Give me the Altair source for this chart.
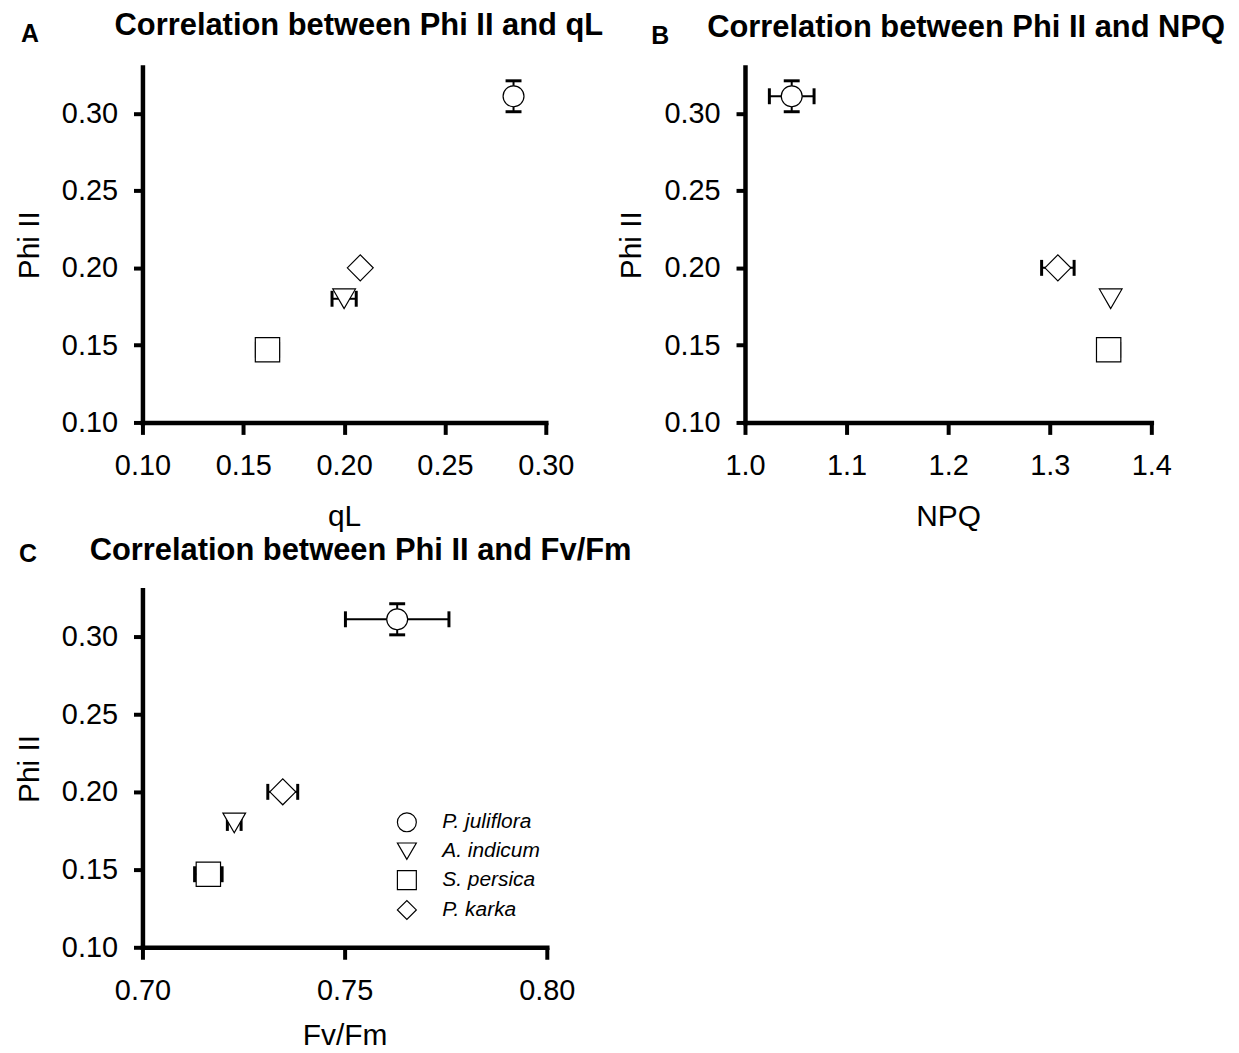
import altair as alt
import pandas as pd

FONT = "Liberation Sans"

species = ["P. juliflora", "A. indicum", "S. persica", "P. karka"]
shapes = ["circle", "triangle-down", "square", "diamond"]
marker_sizes = [484, 530, 441, 676]

phi = [0.311, 0.180, 0.147, 0.200]
phi_err = [0.010, 0.0, 0.0, 0.0]

ql = [0.284, 0.200, 0.162, 0.208]
ql_err = [0.0, 0.006, 0.0055, 0.0]

npq = [1.046, 1.360, 1.358, 1.308]
npq_err = [0.022, 0.0, 0.0108, 0.016]

fvfm = [0.763, 0.7227, 0.7163, 0.7347]
fvfm_err = [0.0128, 0.0017, 0.0034, 0.0037]

y_ticks = [0.10, 0.15, 0.20, 0.25, 0.30]
ql_ticks = [0.10, 0.15, 0.20, 0.25, 0.30]
npq_ticks = [1.0, 1.1, 1.2, 1.3, 1.4]
fvfm_ticks = [0.70, 0.75, 0.80]


def panel(xv, xe, xtitle, xdomain, xticks, xfmt, letter, title,
          lx, ly, tx, ty, width, height, legend, xtitle_pad):
    df = pd.DataFrame({
        "species": species,
        "kind": species,
        "x": xv,
        "xerr": xe,
        "xlo": [v - e for v, e in zip(xv, xe)],
        "xhi": [v + e for v, e in zip(xv, xe)],
        "y": phi,
        "yerr": phi_err,
        "ylo": [v - e for v, e in zip(phi, phi_err)],
        "yhi": [v + e for v, e in zip(phi, phi_err)],
    })
    xs = alt.Scale(domain=xdomain, nice=False, zero=False)
    ys = alt.Scale(domain=[0.10, 0.33], nice=False, zero=False)
    xa = alt.Axis(values=xticks, format=xfmt, title=xtitle, titlePadding=xtitle_pad)
    ya = alt.Axis(values=y_ticks, format=".2f", title="Phi II")

    def X(f):
        return alt.X(f, type="quantitative", scale=xs, axis=xa)

    def Y(f):
        return alt.Y(f, type="quantitative", scale=ys, axis=ya)

    base = alt.Chart(df)
    hx = base.transform_filter("datum.xerr > 0")
    hy = base.transform_filter("datum.yerr > 0")

    hbar = hx.mark_rule(color="black", strokeWidth=2).encode(x=X("xlo"), x2="xhi", y=Y("y"))
    hcap_l = hx.mark_tick(orient="vertical", size=16, thickness=3, color="black", opacity=1).encode(
        x=X("xlo"), y=Y("y"))
    hcap_r = hx.mark_tick(orient="vertical", size=16, thickness=3, color="black", opacity=1).encode(
        x=X("xhi"), y=Y("y"))
    vbar = hy.mark_rule(color="black", strokeWidth=2).encode(x=X("x"), y=Y("ylo"), y2="yhi")
    vcap_b = hy.mark_tick(orient="horizontal", size=16, thickness=3, color="black", opacity=1).encode(
        x=X("x"), y=Y("ylo"))
    vcap_t = hy.mark_tick(orient="horizontal", size=16, thickness=3, color="black", opacity=1).encode(
        x=X("x"), y=Y("yhi"))

    # size scale uses the reversed species order so that its legend is not merged
    # with (and disabled together with) the shape legend
    pts = base.mark_point(filled=False, color="black", fill="white", stroke="black",
                          strokeWidth=1.2, opacity=1, fillOpacity=1).encode(
        x=X("x"),
        y=Y("y"),
        shape=alt.Shape("species:N", scale=alt.Scale(domain=species, range=shapes), legend=legend),
        size=alt.Size("kind:N", scale=alt.Scale(domain=species[::-1], range=marker_sizes[::-1]),
                      legend=None),
    )

    let = alt.Chart(pd.DataFrame({"t": [letter]})).mark_text(
        font=FONT, fontSize=25, fontWeight="bold", align="center", baseline="alphabetic",
        color="black").encode(text="t:N", x=alt.value(lx), y=alt.value(ly))
    ttl = alt.Chart(pd.DataFrame({"t": [title]})).mark_text(
        font=FONT, fontSize=31, fontWeight="bold", align="left", baseline="alphabetic",
        color="black").encode(text="t:N", x=alt.value(tx), y=alt.value(ty))

    return alt.layer(hbar, hcap_l, hcap_r, vbar, vcap_b, vcap_t, pts, let, ttl).properties(
        width=width, height=height)


legend_c = alt.Legend(
    title=None, orient="none", legendX=255, legendY=223, padding=0,
    symbolSize=361, symbolStrokeWidth=1.2,
    labelFont=FONT, labelFontSize=21, labelFontStyle="italic", labelColor="black",
    labelOffset=25, rowPadding=5,
)

pA = panel(ql, ql_err, "qL", [0.10, 0.30], ql_ticks, ".2f", "A",
           "Correlation between Phi II and qL", -113, -25, -28, -32, 405, 357, None, 21)
pB = panel(npq, npq_err, "NPQ", [1.0, 1.4], npq_ticks, ".1f", "B",
           "Correlation between Phi II and NPQ", -85, -23, -38, -30, 408, 357, None, 21)
pC = panel(fvfm, fvfm_err, "Fv/Fm", [0.70, 0.80], fvfm_ticks, ".2f", "C",
           "Correlation between Phi II and Fv/Fm", -115, -28, -53, -30, 406, 359, legend_c, 16)

chart = alt.concat(
    pA, pB, pC, columns=2, spacing={"row": 168, "column": 199}, bounds="flush"
).resolve_scale(
    shape="independent", size="independent"
).properties(
    padding={"left": 6, "top": 0, "right": 5, "bottom": 0}
).configure_axis(
    domainColor="black", domainWidth=4.5, domainCap="square",
    tickColor="black", tickWidth=4,
    labelFont=FONT, labelFontSize=29, labelColor="black", labelFlush=False,
    titleFont=FONT, titleFontSize=30, titleFontWeight="normal", titleColor="black",
    grid=False,
).configure_axisX(
    tickSize=12, labelPadding=17
).configure_axisY(
    tickSize=9, labelPadding=16, titlePadding=17
).configure_view(
    strokeWidth=0
)

chart.save("out.html", embed_options={"renderer": "svg", "actions": False})
